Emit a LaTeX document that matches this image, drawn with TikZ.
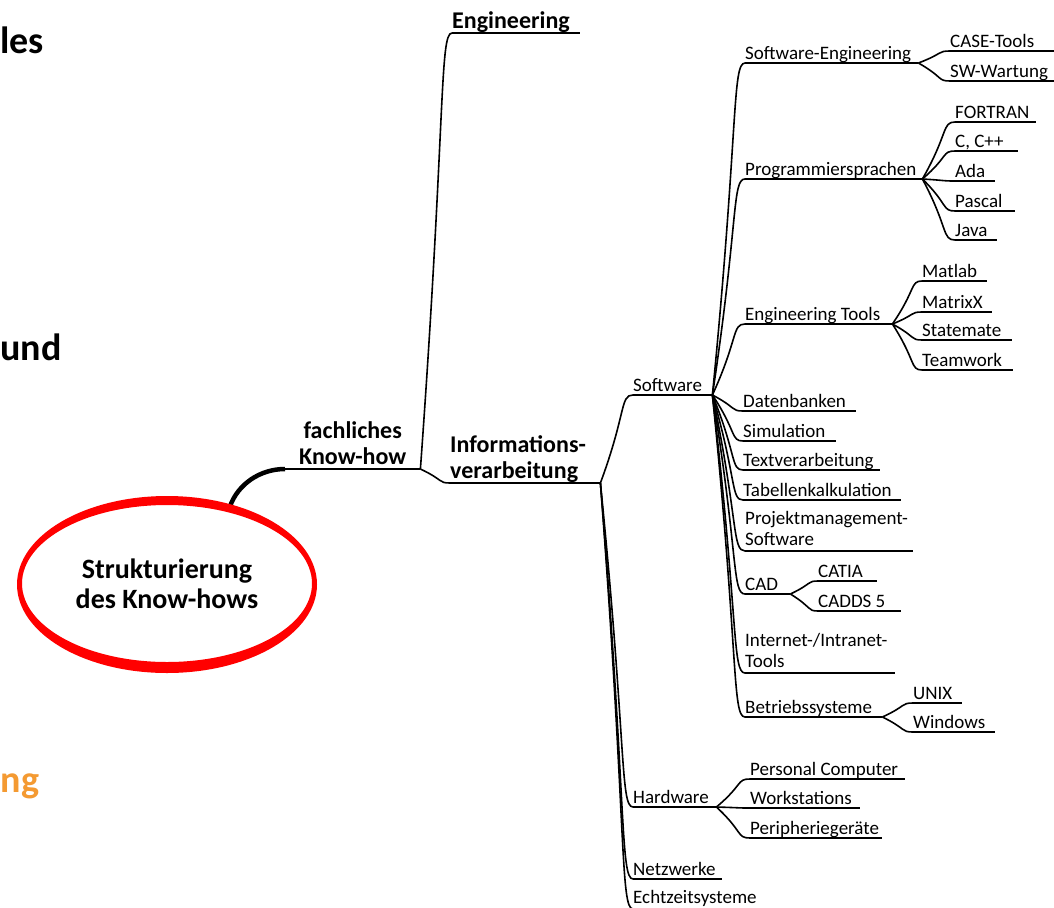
\documentclass[tikz,border=0pt]{standalone}
\usepackage{fontspec}
\setmainfont{Carlito}
\usetikzlibrary{calc,shapes.geometric}

\definecolor{ringred}{RGB}{255,0,0}
\definecolor{slideorange}{RGB}{244,154,50}

\tikzset{
  topic/.style={anchor=south west, inner xsep=0pt, inner ysep=3pt, text depth=0pt,
    align=flush left, text width=#1, font=\fontsize{19}{21}\selectfont},
  maintopic/.style={topic=#1, inner ysep=4pt, font=\fontsize{24}{26}\selectfont\bfseries},
  rootnode/.style={ellipse, minimum width=295pt, minimum height=172pt, inner sep=0pt,
    align=center, font=\fontsize{28}{30}\selectfont\bfseries},
  sidetext/.style={anchor=base west, inner sep=0pt, font=\fontsize{38}{40}\selectfont\bfseries},
  link/.style={line width=1.6pt, to path={.. controls ($(\tikztostart)!0.8!(\tikztotarget)$)
      and ($(\tikztotarget)!0.4!(\tikztostart |- \tikztotarget)$) .. (\tikztotarget)}},
  uline/.style={line width=1.6pt},
  trunk/.style={line width=4.5pt},
}

\begin{document}
\begin{tikzpicture}[x=1pt,y=-1pt]

\useasboundingbox (0,0) rectangle (1054,907) ;
\fill[white] (0,0) rectangle (1054,907) ;

\node[sidetext] (les) at (0,53) {les} ;
\node[sidetext] (und) at (0,360) {und} ;
\node[sidetext, text=slideorange] (ng) at (0.5,792) {ng} ;

\node[rootnode] (root) at (167,584) {Strukturierung\\des Know-hows} ;

\node[maintopic=135pt, align=center, text depth=26pt] (fach) at (285,469) {fachliches\\Know-how} ;
\node[maintopic=128pt] (eng) at (452,33) {Engineering} ;
\node[maintopic=150pt, text depth=26pt] (info) at (450,483) {Informations-\\verarbeitung} ;

\node[topic=79pt] (sw) at (633,395) {Software} ;
\node[topic=83pt] (hw) at (633,807) {Hardware} ;
\node[topic=89pt] (net) at (633,879) {Netzwerke} ;
\node[topic=125pt, inner ysep=5pt] (rt) at (633,909) {Echtzeitsysteme} ;

\node[topic=173pt] (se) at (745,63) {Software-Engineering} ;
\node[topic=177pt] (ps) at (745,179) {Programmiersprachen} ;
\node[topic=147pt] (et) at (745,324) {Engineering Tools} ;
\node[topic=113pt] (db) at (743,411) {Datenbanken} ;
\node[topic=93pt] (sim) at (743,441) {Simulation} ;
\node[topic=137pt] (tv) at (743,470) {Textverarbeitung} ;
\node[topic=158pt] (tk) at (743,500) {Tabellenkalkulation} ;
\node[topic=168pt, text depth=23pt] (pm) at (745,551) {Projektmanagement-\\Software} ;
\node[topic=45pt] (cad) at (745,594) {CAD} ;
\node[topic=150pt, text depth=23pt] (inet) at (745,673) {Internet-/Intranet-\\Tools} ;
\node[topic=137pt] (bs) at (745,717) {Betriebssysteme} ;

\node[topic=104pt] (case) at (950,51) {CASE-Tools} ;
\node[topic=104pt] (swm) at (950,81) {SW-Wartung} ;

\node[topic=81pt] (fortran) at (955,122) {FORTRAN} ;
\node[topic=63pt] (cpp) at (955,151) {C, C++} ;
\node[topic=40pt] (ada) at (955,181) {Ada} ;
\node[topic=60pt] (pascal) at (955,211) {Pascal} ;
\node[topic=42pt] (java) at (955,240) {Java} ;

\node[topic=65pt] (matlab) at (922,281) {Matlab} ;
\node[topic=70pt] (matrixx) at (922,312) {MatrixX} ;
\node[topic=90pt] (statemate) at (922,340) {Statemate} ;
\node[topic=91pt] (teamwork) at (922,370) {Teamwork} ;

\node[topic=59pt] (catia) at (818,581) {CATIA} ;
\node[topic=83pt] (cadds) at (818,611) {CADDS 5} ;

\node[topic=49pt] (unix) at (913,703) {UNIX} ;
\node[topic=82pt] (win) at (913,732) {Windows} ;

\node[topic=155pt] (pc) at (750,779) {Personal Computer} ;
\node[topic=110pt] (ws) at (750,808) {Workstations} ;
\node[topic=132pt] (peri) at (750,838) {Peripherieger\"ate} ;

\foreach \n in {fach,eng,info,sw,hw,net,rt,se,ps,et,db,sim,tv,tk,pm,cad,inet,bs,
    case,swm,fortran,cpp,ada,pascal,java,matlab,matrixx,statemate,teamwork,
    catia,cadds,unix,win,pc,ws,peri}
  \draw[uline] (\n.south west) -- (\n.south east) ;

\draw[trunk] (root.51) .. controls +(8,-22) and +(-25,0) .. (fach.south west) ;

\draw[link] (fach.south east) to (eng.south west) ;
\draw[link] (fach.south east) to (info.south west) ;

\foreach \n in {sw,hw,net,rt}
  \draw[link] (info.south east) to (\n.south west) ;
\foreach \n in {se,ps,et,db,sim,tv,tk,pm,cad,inet,bs}
  \draw[link] (sw.south east) to (\n.south west) ;
\foreach \n in {case,swm}
  \draw[link] (se.south east) to (\n.south west) ;
\foreach \n in {fortran,cpp,ada,pascal,java}
  \draw[link] (ps.south east) to (\n.south west) ;
\foreach \n in {matlab,matrixx,statemate,teamwork}
  \draw[link] (et.south east) to (\n.south west) ;
\foreach \n in {catia,cadds}
  \draw[link] (cad.south east) to (\n.south west) ;
\foreach \n in {unix,win}
  \draw[link] (bs.south east) to (\n.south west) ;
\foreach \n in {pc,ws,peri}
  \draw[link] (hw.south east) to (\n.south west) ;

\fill[ringred, even odd rule] (root.center) ++(0,0.5) ellipse [x radius=150pt, y radius=88.5pt]
  (root.center) ++(0,-0.5) ellipse [x radius=145pt, y radius=78.5pt] ;

\end{tikzpicture}
\end{document}
